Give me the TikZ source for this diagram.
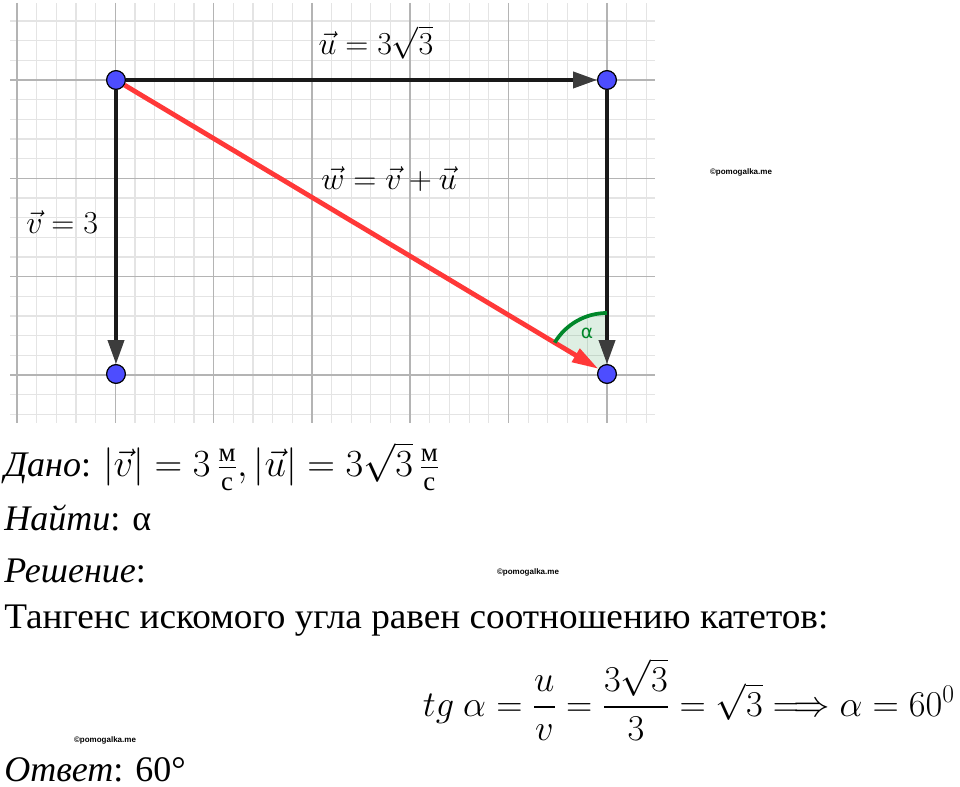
\RequirePackage{fix-cm}
\documentclass[tikz,border=0pt]{standalone}
\usepackage{amsmath}
\usepackage[no-math]{fontspec}
\setmainfont{Liberation Serif}
\newfontfamily\wmfont{Liberation Sans}
\newfontfamily\lblfont{DejaVu Sans}
\usetikzlibrary{arrows.meta}
\definecolor{gminor}{HTML}{E4E4E4}
\definecolor{gmajor}{HTML}{B4B4B4}
\definecolor{ptblue}{HTML}{4D4DFF}
\definecolor{vred}{HTML}{FF3838}
\definecolor{agreen}{HTML}{00872A}
\definecolor{tipgray}{HTML}{3C3C3C}
\tikzset{
  minorline/.style={gminor, line width=0.9pt},
  majorline/.style={gmajor, line width=1.1pt},
  pt/.style={circle, fill=ptblue, draw=black, line width=0.8pt, minimum size=14pt, inner sep=0pt},
  vec/.style={line width=2.8pt, black!90, -{Triangle[length=18pt,width=12pt,color=tipgray]}},
  redvec/.style={line width=3.6pt, vred, -{Triangle[length=20pt,width=11pt]}},
  mlabel/.style={font=\fontsize{24}{28}\selectfont, inner sep=0pt},
  txt/.style={font=\fontsize{27}{31}\selectfont, inner sep=0pt},
  wm/.style={font=\wmfont\bfseries\fontsize{6}{7}\selectfont, inner sep=0pt},
}
\begin{document}
\begin{tikzpicture}[x=0.75pt,y=-0.75pt]
\useasboundingbox (0,0) rectangle (960,787);
% grid
\foreach \i in {0,...,32} { \draw[minorline] ({17+19.66*\i},3) -- ({17+19.66*\i},423); }
\foreach \j in {-3,...,17} { \draw[minorline] (10,{80+19.66*\j}) -- (655,{80+19.66*\j}); }
\foreach \i in {0,...,6} { \draw[majorline] ({17+98.3*\i},3) -- ({17+98.3*\i},423); }
\foreach \j in {0,...,3} { \draw[majorline] (10,{80+98.3*\j}) -- (655,{80+98.3*\j}); }
% points
\coordinate (Dc) at (607,374);
\fill[agreen, opacity=0.13] (Dc) -- ++(-90:61) arc[start angle=-90, end angle=-149, radius=61] -- cycle;
\node[pt] (A) at (116,80) {};
\node[pt] (B) at (607,80) {};
\node[pt] (C) at (116,374) {};
\node[pt] (D) at (607,374) {};
\draw[vec] (A) -- (B);
\draw[vec] (A) -- (C);
\draw[vec] (B) -- (D);
\draw[redvec] (A) -- (D);
\draw[agreen, line width=2.8pt] (Dc) ++(-90:61) arc[start angle=-90, end angle=-149, radius=61];
\node[pt] at (A) {};
\node[pt] at (B) {};
\node[pt] at (C) {};
\node[pt] at (D) {};
\node[text=agreen, font=\lblfont\fontsize{14}{15}\selectfont, inner sep=0pt] (alpha) at (587,333) {α};
% labels
\node[mlabel, anchor=base] (lu) at (376,55) {$\vec{u}=3\sqrt{3}$};
\node[mlabel, anchor=base] (lw) at (389,190) {$\vec{w}=\vec{v}+\vec{u}$};
\node[mlabel, anchor=base west] (lv) at (26,234) {$\vec{v}=3$};
% watermarks
\node[wm] (wm1) at (741,172) {©pomogalka.me};
\node[wm] (wm2) at (528,572) {©pomogalka.me};
\node[wm] (wm3) at (105,740) {©pomogalka.me};
% text
\node[txt, anchor=base west] (dano) at (4,477) {\textit{Дано}: {\fontsize{28.8}{32}\selectfont$|\vec{v}| = 3\,\tfrac{\text{м}}{\text{с}}, |\vec{u}| = 3\sqrt{3}\,\tfrac{\text{м}}{\text{с}}$}};
\node[txt, anchor=base west] (najti) at (4,530) {\textit{Найти}: α};
\node[txt, anchor=base west] (resh) at (4,582) {\textit{Решение}:};
\node[txt, anchor=base west] (tang) at (4,628) {\scalebox{1.035}[1]{Тангенс искомого угла равен соотношению катетов:}};
\node[txt, anchor=base east] (form) at (955,716) {{\fontsize{27.3}{31}\selectfont$tg\ \alpha = \dfrac{u}{v} = \dfrac{3\sqrt{3}}{3} = \sqrt{3} \Longrightarrow \alpha = 60^0$}};
\node[txt, anchor=base west] (otv) at (4,781) {\textit{Ответ}: 60°};
\end{tikzpicture}
\end{document}
